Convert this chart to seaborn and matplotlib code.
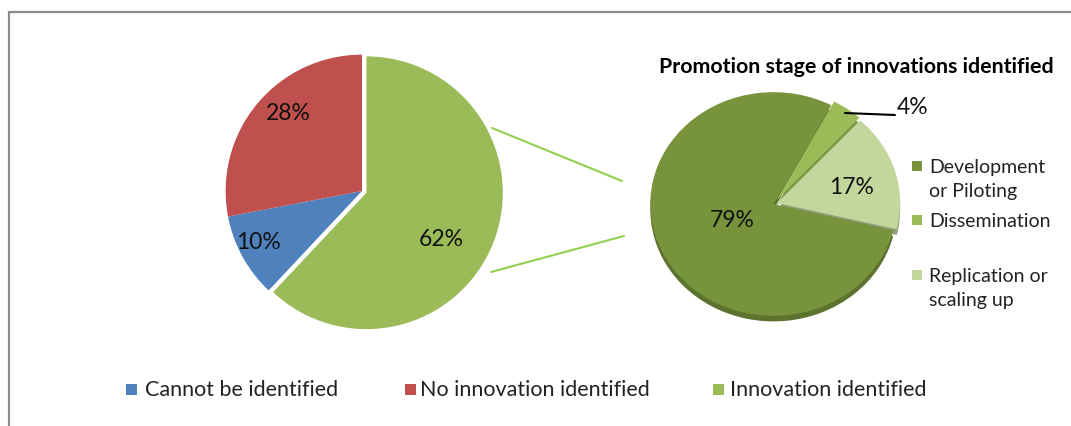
import matplotlib
matplotlib.use("Agg")
import matplotlib.pyplot as plt
from matplotlib.patches import Rectangle
from matplotlib.lines import Line2D
import seaborn as sns

# data
main_labels = ['Cannot be identified', 'No innovation identified', 'Innovation identified']
main_values = [10, 28, 62]
main_colors = ['#4F81BD', '#C0504D', '#9BBB59']

stage_labels = ['Development\nor Piloting', 'Dissemination', 'Replication or\nscaling up']
stage_values = [79, 4, 17]
stage_colors = ['#77933C', '#9BBB59', '#C3D69B']
stage_shadow = ['#5C7330', '#7A9646', '#8E9C78']
stage_title = 'Promotion stage of innovations identified'

sns.set_theme(style='white')
plt.rcParams['font.family'] = ['Lato', 'DejaVu Sans']

W, H = 1071, 427
fig = plt.figure(figsize=(W / 100, H / 100), dpi=100)
fig.patch.set_facecolor('white')

def px(x, y, w, h):
    # pixel box (top-left origin) -> figure fraction
    return [x / W, 1 - (y + h) / H, w / W, h / H]

# outer frame
fig.add_artist(Rectangle((9 / W, -0.1), 1.2, 1 - 13 / H + 0.1, transform=fig.transFigure,
                         fill=False, edgecolor='#8C8C8C', linewidth=1.6))

# ---- left pie
ax1 = fig.add_axes(px(212, 42, 300, 300))
order = [2, 0, 1]  # green first, clockwise from 12 o'clock
ax1.pie([main_values[i] for i in order], colors=[main_colors[i] for i in order],
        startangle=90, counterclock=False, explode=[0.035, 0, 0],
        wedgeprops=dict(linewidth=0))
ax1.set_xlim(-1.1, 1.1)
ax1.set_ylim(-1.1, 1.1)
ax1.set_aspect('auto')
ax1.axis('off')
for i, (x, y) in zip(order, [(441, 240), (258, 243), (288, 113)]):
    fig.text(x / W, 1 - y / H, f'{main_values[i]}%', ha='center', va='center',
             fontsize=16.5, color='#111111')

# connector lines
for (x0, y0), (x1, y1) in [((492, 129), (622, 182)), ((491, 273), (624, 237))]:
    fig.add_artist(Line2D([x0 / W, x1 / W], [1 - y0 / H, 1 - y1 / H],
                          transform=fig.transFigure, color='#92D050', linewidth=1.5))

# ---- right pie (slightly flattened, with a shadow rim)
ax2 = fig.add_axes(px(638, 82, 271, 246))
order2 = [1, 2, 0]  # clockwise from ~62 degrees
vals2 = [stage_values[i] for i in order2]
expl = [0.04, 0.03, 0]
ax2.pie(vals2, colors=[stage_shadow[i] for i in order2], startangle=62,
        counterclock=False, explode=expl, center=(0, -0.05), wedgeprops=dict(linewidth=0))
ax2.pie(vals2, colors=[stage_colors[i] for i in order2], startangle=62,
        counterclock=False, explode=expl, wedgeprops=dict(linewidth=0))
ax2.set_xlim(-1.1, 1.1)
ax2.set_ylim(-1.1, 1.1)
ax2.set_aspect('auto')
ax2.axis('off')

for i, (x, y) in zip([0, 2, 1], [(732, 221), (852, 187), (913, 107)]):
    fig.text(x / W, 1 - y / H, f'{stage_values[i]}%', ha='center', va='center',
             fontsize=16.5, color='#111111')
fig.add_artist(Line2D([845 / W, 895 / W], [1 - 114 / H, 1 - 116 / H],
                      transform=fig.transFigure, color='black', linewidth=1.5))

fig.text(659 / W, 1 - 67 / H, stage_title, ha='left', va='center',
         fontsize=15.4, fontweight='bold', color='black')

# right legend
for i, y in zip(range(3), [167, 221, 276]):
    fig.add_artist(Rectangle((912 / W, 1 - (y + 5) / H), 10 / W, 10 / H,
                             transform=fig.transFigure, color=stage_colors[i], linewidth=0))
    fig.text(929 / W, 1 - (y - 8) / H, stage_labels[i], ha='left', va='top',
             fontsize=14, color='#222222', linespacing=1.5)

# bottom legend
for i, (sx, tx) in enumerate([(126, 145), (405, 420), (713, 730)]):
    fig.add_artist(Rectangle((sx / W, 1 - 396 / H), 11 / W, 11 / H,
                             transform=fig.transFigure, color=main_colors[i], linewidth=0))
    fig.text(tx / W, 1 - 390 / H, main_labels[i], ha='left', va='center',
             fontsize=15.5, color='#222222')

fig.savefig('out.png', dpi=100)
